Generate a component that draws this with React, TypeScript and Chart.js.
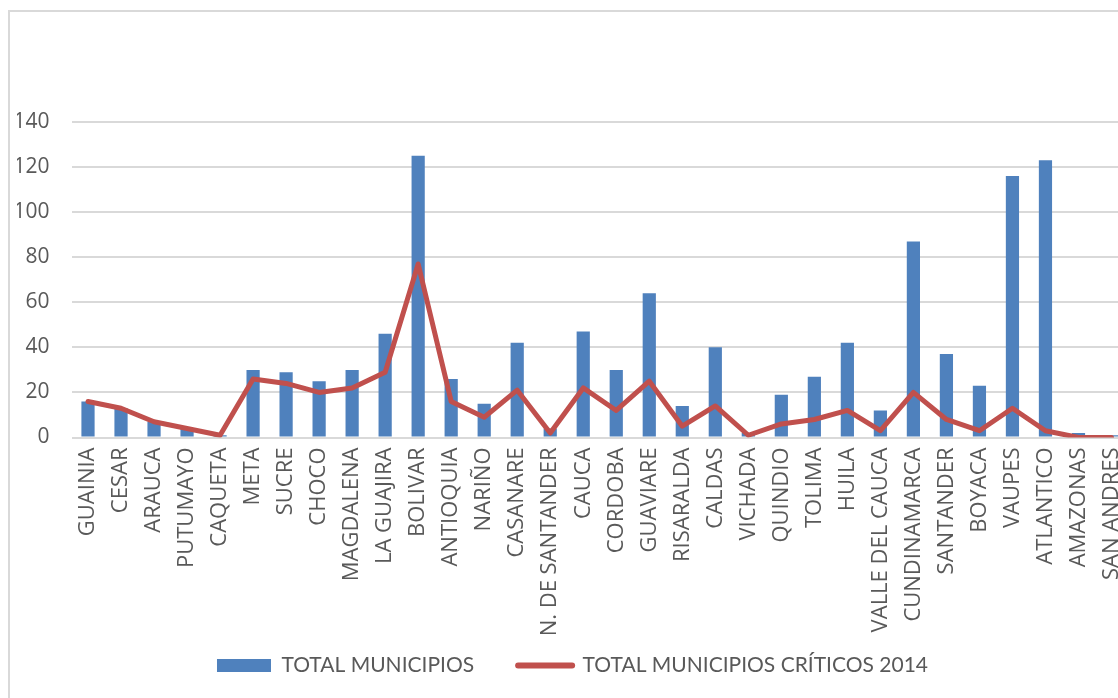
import React, { useEffect, useRef } from "react";
import { Chart, registerables } from "chart.js";

Chart.register(...registerables);

const categories = [
  "GUAINIA", "CESAR", "ARAUCA", "PUTUMAYO", "CAQUETA", "META", "SUCRE", "CHOCO",
  "MAGDALENA", "LA GUAJIRA", "BOLIVAR", "ANTIOQUIA", "NARIÑO", "CASANARE",
  "N. DE SANTANDER", "CAUCA", "CORDOBA", "GUAVIARE", "RISARALDA", "CALDAS",
  "VICHADA", "QUINDIO", "TOLIMA", "HUILA", "VALLE DEL CAUCA", "CUNDINAMARCA",
  "SANTANDER", "BOYACA", "VAUPES", "ATLANTICO", "AMAZONAS", "SAN ANDRES",
];

const totalMunicipios = [
  16, 13, 7, 4, 1, 30, 29, 25, 30, 46, 125, 26, 15, 42, 4, 47, 30, 64, 14, 40,
  2, 19, 27, 42, 12, 87, 37, 23, 116, 123, 2, 1,
];

const municipiosCriticos = [
  16, 13, 7, 4, 1, 26, 24, 20, 22, 29, 77, 16, 9, 21, 2, 22, 12, 25, 5, 14,
  1, 6, 8, 12, 3, 20, 8, 3, 13, 3, 0, 0,
];

const yTicks = [0, 20, 40, 60, 80, 100, 120, 140];

const seriesNames = ["TOTAL MUNICIPIOS", "TOTAL MUNICIPIOS CRÍTICOS 2014"];

const BLUE = "#4f81bd";
const RED = "#c0504d";
const GRAY_TEXT = "#595959";
const GRID = "#d9d9d9";

export default function App() {
  const canvasRef = useRef<HTMLCanvasElement | null>(null);

  useEffect(() => {
    const canvas = canvasRef.current;
    if (!canvas) return;
    const chart = new Chart(canvas, {
      type: "bar",
      data: {
        labels: categories,
        datasets: [
          {
            type: "line",
            label: seriesNames[1],
            data: municipiosCriticos,
            borderColor: RED,
            backgroundColor: RED,
            borderWidth: 5,
            borderCapStyle: "round",
            borderJoinStyle: "round",
            pointRadius: 0,
            pointHoverRadius: 0,
            tension: 0,
            order: 0,
          } as any,
          {
            type: "bar",
            label: seriesNames[0],
            data: totalMunicipios,
            backgroundColor: BLUE,
            borderWidth: 0,
            categoryPercentage: 1,
            barPercentage: 0.4,
            order: 1,
          } as any,
        ],
      },
      options: {
        responsive: false,
        animation: false,
        devicePixelRatio: 1,
        layout: { padding: { top: 122, left: 17, right: 0, bottom: 12 } },
        plugins: {
          tooltip: { enabled: false },
          legend: {
            position: "bottom",
            labels: {
              color: GRAY_TEXT,
              font: { family: "Lato", size: 21 },
              usePointStyle: true,
              pointStyleWidth: 54,
              boxHeight: 13,
              padding: 44,
              generateLabels: (ch: any) => {
                const ds = ch.data.datasets;
                const items = ds.map((d: any, i: number) => {
                  const isLine = d.type === "line";
                  return {
                    text: d.label,
                    fillStyle: isLine ? RED : BLUE,
                    strokeStyle: isLine ? RED : BLUE,
                    lineWidth: isLine ? 6 : 0,
                    lineCap: "round",
                    pointStyle: isLine ? "line" : "rect",
                    fontColor: GRAY_TEXT,
                    hidden: false,
                    datasetIndex: i,
                  };
                });
                return items.reverse();
              },
            },
          },
        },
        scales: {
          x: {
            grid: { display: false, drawTicks: false },
            border: { display: false },
            ticks: {
              color: GRAY_TEXT,
              font: { family: "Open Sans", size: 22 },
              minRotation: 90,
              maxRotation: 90,
              autoSkip: false,
              padding: 10,
            },
            afterFit: (scale: any) => {
              scale.height = 173.5;
              scale.paddingLeft = 0;
              scale.paddingRight = 0;
              // let the long rotated labels run past the axis box, as in the original
              scale._computeLabelArea = () => undefined;
            },
          },
          y: {
            min: 0,
            max: 140,
            grid: { color: GRID, lineWidth: 2, drawTicks: false },
            border: { display: false },
            afterBuildTicks: (scale: any) => {
              scale.ticks = yTicks.map((v) => ({ value: v }));
            },
            ticks: {
              color: GRAY_TEXT,
              font: { family: "Open Sans", size: 21 },
              padding: 22,
            },
            afterFit: (scale: any) => {
              scale.width = 54.5;
              scale.paddingTop = 0;
              scale.paddingBottom = 0;
            },
          },
        },
      } as any,
    });
    return () => chart.destroy();
  }, []);

  return (
    <div
      style={{
        position: "fixed",
        left: 0,
        top: 0,
        width: 1118,
        height: 698,
        overflow: "hidden",
        background: "#ffffff",
      }}
    >
      <div
        style={{
          position: "absolute",
          left: 8,
          top: 10,
          width: 1200,
          height: 800,
          border: "2px solid #d9d9d9",
          boxSizing: "border-box",
        }}
      />
      <canvas
        ref={canvasRef}
        width={1128}
        height={698}
        style={{ position: "absolute", left: 0, top: 0, width: 1128, height: 698 }}
      />
    </div>
  );
}
